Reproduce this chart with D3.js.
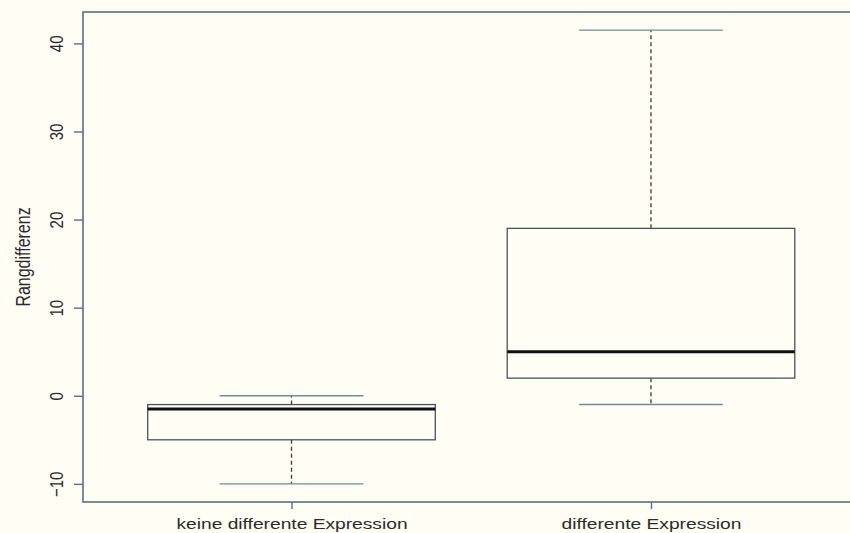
<!DOCTYPE html>
<html>
<head>
<meta charset="utf-8">
<script src="https://cdn.jsdelivr.net/npm/d3@7"></script>
<style>
  html, body { margin: 0; padding: 0; background: #FFFDF4; }
  svg { display: block; }
  text { font-family: "Liberation Sans", Arial, Helvetica, sans-serif; fill: #2b2b2b; }
</style>
</head>
<body>
<svg id="chart" width="850" height="533"></svg>
<script>
// Boxplot of rank differences for two groups
const groups = ["keine differente Expression", "differente Expression"];
const groupPos = [1, 2];
const lowerWhisker = [-10, -1];
const q1 = [-5, 2];
const median = [-1.5, 5];
const q3 = [-1, 19];
const upperWhisker = [0, 41.5];
const yTicks = [-10, 0, 10, 20, 30, 40];
const yTitle = "Rangdifferenz";

const W = 850, H = 533;
const plot = { left: 83, right: 859.5, top: 12, bottom: 502 };
const stretch = 1.28;          // horizontal text stretch
const fontSize = 15;
const lineCol = "#56727d";
const boxCol = "#46555c";
const capCol = "#6f8d97";

const svg = d3.select("#chart");
svg.append("rect").attr("width", W).attr("height", H).attr("fill", "#FFFDF4");

// value range padded by 4% like a base-graphics plot
const lo = d3.min(lowerWhisker), hi = d3.max(upperWhisker);
const pad = (hi - lo) * 0.04;
const y = d3.scaleLinear().domain([lo - pad, hi + pad]).range([plot.bottom, plot.top]);
const xPad = (groups.length) * 0.04;
const x = d3.scaleLinear().domain([0.5 - xPad, groups.length + 0.5 + xPad]).range([plot.left, plot.right]);

const boxHalf = 0.4, capHalf = 0.2;

const data = groups.map((g, i) => ({
  name: g, pos: groupPos[i], lw: lowerWhisker[i], q1: q1[i], med: median[i], q3: q3[i], uw: upperWhisker[i]
}));

const g = svg.append("g");

data.forEach(d => {
  const cx = x(d.pos);
  // whiskers
  g.append("line").attr("x1", cx).attr("x2", cx).attr("y1", y(d.q3)).attr("y2", y(d.uw))
    .attr("stroke", "#3a3a3a").attr("stroke-width", 1.3).attr("stroke-dasharray", "4,3");
  g.append("line").attr("x1", cx).attr("x2", cx).attr("y1", y(d.q1)).attr("y2", y(d.lw))
    .attr("stroke", "#3a3a3a").attr("stroke-width", 1.3).attr("stroke-dasharray", "4,3");
  // caps
  [d.uw, d.lw].forEach(v => {
    g.append("line").attr("x1", x(d.pos - capHalf)).attr("x2", x(d.pos + capHalf))
      .attr("y1", y(v)).attr("y2", y(v)).attr("stroke", capCol).attr("stroke-width", 1.4);
  });
  // box
  g.append("rect").attr("x", x(d.pos - boxHalf)).attr("y", y(d.q3))
    .attr("width", x(d.pos + boxHalf) - x(d.pos - boxHalf)).attr("height", y(d.q1) - y(d.q3))
    .attr("fill", "#FFFDF4").attr("stroke", boxCol).attr("stroke-width", 1.3);
  // median
  g.append("line").attr("x1", x(d.pos - boxHalf)).attr("x2", x(d.pos + boxHalf))
    .attr("y1", y(d.med)).attr("y2", y(d.med)).attr("stroke", "#111").attr("stroke-width", 3);
});

// frame
svg.append("rect").attr("x", plot.left).attr("y", plot.top)
  .attr("width", plot.right - plot.left).attr("height", plot.bottom - plot.top)
  .attr("fill", "none").attr("stroke", lineCol).attr("stroke-width", 1.6);

// y axis
const yAxis = svg.append("g").attr("transform", `translate(${plot.left},0)`)
  .call(d3.axisLeft(y).tickValues(yTicks).tickSize(9).tickFormat(d => d < 0 ? "\u2212" + Math.abs(d) : d));
yAxis.select(".domain").remove();
yAxis.selectAll(".tick line").attr("stroke", lineCol).attr("stroke-width", 1.4);
yAxis.selectAll(".tick text")
  .attr("x", null).attr("dy", "0.35em")
  .attr("text-anchor", "middle")
  .attr("transform", `translate(-27,0) scale(${stretch},1) rotate(-90)`)
  .style("font-size", fontSize + "px").style("font-family", null).attr("fill", "#2b2b2b");

// x axis
const xAxis = svg.append("g").attr("transform", `translate(0,${plot.bottom})`)
  .call(d3.axisBottom(x).tickValues(groupPos).tickSize(7).tickFormat((d, i) => groups[i]));
xAxis.select(".domain").remove();
xAxis.selectAll(".tick line").attr("stroke", lineCol).attr("stroke-width", 1.4);
xAxis.selectAll(".tick text")
  .attr("y", 0).attr("dy", 0)
  .attr("transform", `translate(0,27) scale(${stretch},1)`)
  .style("font-size", fontSize + "px").style("font-family", null).attr("fill", "#2b2b2b");

// y title
svg.append("text")
  .attr("transform", `translate(30,${(plot.top + plot.bottom) / 2}) scale(${stretch},1) rotate(-90)`)
  .attr("text-anchor", "middle")
  .style("font-size", "16px")
  .text(yTitle);
</script>
</body>
</html>
